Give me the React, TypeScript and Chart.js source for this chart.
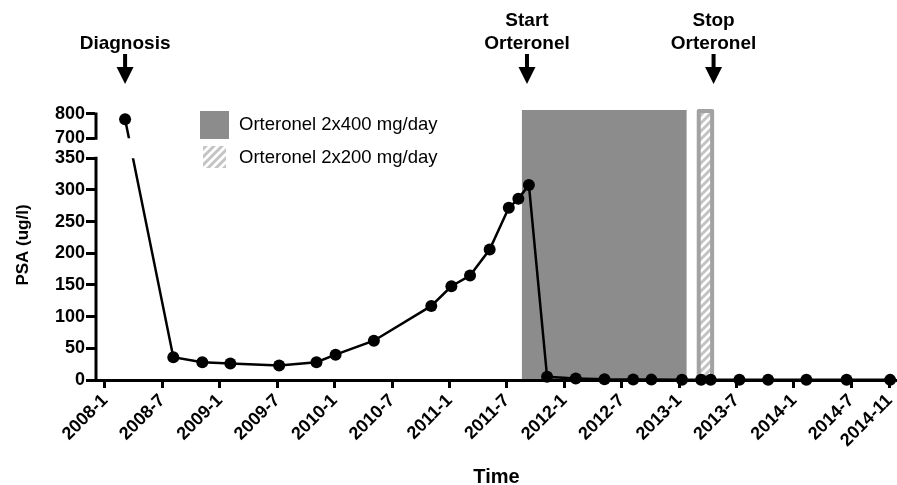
import React, { useEffect, useRef } from 'react';
import { Chart, LinearScale, registerables } from 'chart.js';

// ---------------- data ----------------
// x = months since 2008-01
const MONTHS_SINCE_2008_01 = [
  2.1, 7.14, 10.17, 13.1, 18.2, 22.1, 24.1, 28.1, 34.1, 36.2, 38.15, 40.2, 42.2, 43.2, 44.3,
  46.2, 49.2, 52.2, 55.2, 57.1, 60.3, 62.3, 63.3, 66.3, 69.3, 73.3, 77.5, 82.05,
];
const PSA_UG_L = [
  778, 36, 28, 26, 23, 28, 40, 62, 117, 148, 165, 206, 272, 286, 308,
  5, 2.5, 1, 0.8, 0.6, 0.5, 0.5, 0.5, 0.4, 0.4, 0.3, 0.3, 0.2,
];
const X_TICK_MONTHS = [0, 6, 12, 18, 24, 30, 36, 42, 48, 54, 60, 66, 72, 78, 82];
const X_TICK_LABELS = [
  '2008-1', '2008-7', '2009-1', '2009-7', '2010-1', '2010-7', '2011-1', '2011-7',
  '2012-1', '2012-7', '2013-1', '2013-7', '2014-1', '2014-7', '2014-11',
];
const Y_TICKS = [0, 50, 100, 150, 200, 250, 300, 350, 700, 800];
const ORTERONEL_400_MONTHS = [43.55, 60.8];
const ORTERONEL_200_MONTHS = [62.05, 63.45];
const EVENT_MONTHS = [2.1, 44.1, 63.6];
const EVENT_LABELS = [['Diagnosis'], ['Start', 'Orteronel'], ['Stop', 'Orteronel']];
const LEGEND_LABELS = ['Orteronel 2x400 mg/day', 'Orteronel 2x200 mg/day'];

// ---------------- axis geometry / style ----------------
const LOW_MAX = 350;
const HIGH_MIN = 700;
const HIGH_MAX = 816;
const UPPER_TICK_MAX = 800;
const LOW_FRAC = 0.8211;
const GAP_FRAC = 0.0741;
const X_MIN = -0.94;
const X_MAX = 82.77;
const BAND_TOP = 816;
const HATCH_TOP = 812;
const FONT = '"Liberation Sans", Arial, Helvetica, sans-serif';
const GRAY = '#8c8c8c';
const HATCH_BORDER = '#a2a2a2';

function toDecimal(v: number): number {
  if (v <= LOW_MAX) return (v / LOW_MAX) * LOW_FRAC;
  if (v < HIGH_MIN) return LOW_FRAC + ((v - LOW_MAX) / (HIGH_MIN - LOW_MAX)) * GAP_FRAC;
  return LOW_FRAC + GAP_FRAC + ((v - HIGH_MIN) / (HIGH_MAX - HIGH_MIN)) * (1 - LOW_FRAC - GAP_FRAC);
}
function fromDecimal(d: number): number {
  if (d <= LOW_FRAC) return (d / LOW_FRAC) * LOW_MAX;
  if (d < LOW_FRAC + GAP_FRAC) return LOW_MAX + ((d - LOW_FRAC) / GAP_FRAC) * (HIGH_MIN - LOW_MAX);
  return HIGH_MIN + ((d - LOW_FRAC - GAP_FRAC) / (1 - LOW_FRAC - GAP_FRAC)) * (HIGH_MAX - HIGH_MIN);
}

class BrokenLinearScale extends LinearScale {
  static id = 'brokenLinear';
  static defaults = {};
  buildTicks(): any {
    return Y_TICKS.map((value) => ({ value }));
  }
  getPixelForValue(value: any): number {
    if (value === null || value === undefined || Number.isNaN(+value)) return NaN;
    return (this as any).getPixelForDecimal(toDecimal(+value));
  }
  getValueForPixel(pixel: number): number {
    return fromDecimal((this as any).getDecimalForPixel(pixel));
  }
  drawBorder() {
    const self: any = this;
    const ctx = self.ctx as CanvasRenderingContext2D;
    const b = self.options.border;
    const w = b.width || 3;
    const x = self.right;
    ctx.save();
    ctx.strokeStyle = b.color || '#000';
    ctx.lineWidth = w;
    ctx.lineCap = 'butt';
    ctx.beginPath();
    ctx.moveTo(x, this.getPixelForValue(0) + w / 2);
    ctx.lineTo(x, this.getPixelForValue(LOW_MAX) - w / 2);
    ctx.moveTo(x, this.getPixelForValue(HIGH_MIN) + w / 2);
    ctx.lineTo(x, this.getPixelForValue(UPPER_TICK_MAX) - w / 2);
    ctx.stroke();
    ctx.restore();
  }
}

Chart.register(...registerables, BrokenLinearScale as any);

function makeHatch(ctx: CanvasRenderingContext2D): CanvasPattern | string {
  const c = document.createElement('canvas');
  c.width = 8;
  c.height = 8;
  const g = c.getContext('2d');
  if (!g) return '#ccc';
  g.fillStyle = '#ffffff';
  g.fillRect(0, 0, 8, 8);
  g.strokeStyle = '#c4c4c4';
  g.lineWidth = 3;
  g.beginPath();
  g.moveTo(-2, 10); g.lineTo(10, -2);
  g.moveTo(-2, 2); g.lineTo(2, -2);
  g.moveTo(6, 10); g.lineTo(10, 6);
  g.stroke();
  return ctx.createPattern(c, 'repeat') || '#ccc';
}

const seriesClip = {
  id: 'seriesClip',
  beforeDatasetDraw(chart: any, args: any) {
    if (args.index !== 0) return;
    const y = chart.scales.y;
    const ctx = chart.ctx;
    ctx.save();
    ctx.beginPath();
    const upBottom = y.getPixelForValue(HIGH_MIN);
    const lowTop = y.getPixelForValue(LOW_MAX);
    ctx.rect(0, 0, chart.width, upBottom);
    ctx.rect(0, lowTop, chart.width, chart.height - lowTop);
    ctx.clip();
  },
  afterDatasetDraw(chart: any, args: any) {
    if (args.index !== 0) return;
    chart.ctx.restore();
  },
};

function makeDecor(pattern: any) {
  return {
    id: 'decor',
    afterDraw(chart: any) {
      const ctx = chart.ctx as CanvasRenderingContext2D;
      const xs = chart.scales.x;
      ctx.save();
      ctx.fillStyle = '#000';
      ctx.textAlign = 'center';
      ctx.textBaseline = 'middle';
      ctx.font = `bold 19px ${FONT}`;
      EVENT_MONTHS.forEach((m, i) => {
        const px = xs.getPixelForValue(m);
        const lines = EVENT_LABELS[i];
        lines.forEach((t, j) => {
          ctx.fillText(t, px, 44 - (lines.length - 1 - j) * 23);
        });
        ctx.fillRect(px - 2, 54, 4, 14);
        ctx.beginPath();
        ctx.moveTo(px - 8.5, 67);
        ctx.lineTo(px + 8.5, 67);
        ctx.lineTo(px, 84);
        ctx.closePath();
        ctx.fill();
      });
      // legend
      ctx.fillStyle = GRAY;
      ctx.fillRect(200, 111, 29, 28);
      ctx.fillStyle = pattern;
      ctx.fillRect(203, 146, 23, 22);
      ctx.fillStyle = '#000';
      ctx.textAlign = 'left';
      ctx.font = `18.5px ${FONT}`;
      ctx.fillText(LEGEND_LABELS[0], 239, 125);
      ctx.fillText(LEGEND_LABELS[1], 239, 158);
      ctx.restore();
    },
  };
}

export default function App() {
  const ref = useRef<HTMLCanvasElement>(null);
  useEffect(() => {
    const canvas = ref.current;
    if (!canvas) return;
    const ctx = canvas.getContext('2d');
    if (!ctx) return;
    const hatch = makeHatch(ctx);
    const series = MONTHS_SINCE_2008_01.map((x, i) => ({ x, y: PSA_UG_L[i] }));
    const box400 = ORTERONEL_400_MONTHS.map((x) => ({ x, y: BAND_TOP }));
    const box200 = [
      { x: ORTERONEL_200_MONTHS[0], y: 0 },
      { x: ORTERONEL_200_MONTHS[0], y: HATCH_TOP },
      { x: ORTERONEL_200_MONTHS[1], y: HATCH_TOP },
      { x: ORTERONEL_200_MONTHS[1], y: 0 },
    ];
    const tickFont = { family: FONT, size: 18, weight: 'bold' as const };
    const chart = new Chart(canvas, {
      type: 'line',
      data: {
        datasets: [
          {
            label: 'PSA',
            data: series,
            borderColor: '#000',
            borderWidth: 2.5,
            pointRadius: 6,
            pointBackgroundColor: '#000',
            pointBorderWidth: 0,
            tension: 0,
            fill: false,
            clip: false as any,
          },
          {
            label: LEGEND_LABELS[1],
            data: box200,
            borderColor: HATCH_BORDER,
            borderWidth: 4,
            borderJoinStyle: 'round',
            backgroundColor: hatch as any,
            pointRadius: 0,
            fill: 'origin',
            tension: 0,
            clip: false as any,
          },
          {
            label: LEGEND_LABELS[0],
            data: box400,
            borderColor: GRAY,
            borderWidth: 1,
            backgroundColor: GRAY,
            pointRadius: 0,
            fill: 'origin',
            tension: 0,
          },
        ],
      },
      options: {
        responsive: false,
        maintainAspectRatio: false,
        animation: false,
        events: [],
        layout: { autoPadding: false, padding: { top: 110, left: 0, right: 0, bottom: 0 } },
        plugins: {
          legend: { display: false },
          tooltip: { enabled: false },
        },
        scales: {
          x: {
            type: 'linear',
            position: 'bottom',
            min: X_MIN,
            max: X_MAX,
            afterBuildTicks: (s: any) => {
              s.ticks = X_TICK_MONTHS.map((value) => ({ value }));
            },
            afterFit: (s: any) => {
              s.height = 105;
              s.paddingLeft = 0;
              s.paddingRight = 0;
            },
            grid: { drawOnChartArea: false, tickLength: 8, tickWidth: 3, tickColor: '#000' },
            border: { display: true, color: '#000', width: 3, z: 1 },
            ticks: {
              autoSkip: false,
              minRotation: 45,
              maxRotation: 45,
              padding: 2,
              color: '#000',
              font: tickFont,
              callback: (_v: any, i: number) => X_TICK_LABELS[i] ?? '',
            },
            title: {
              display: true,
              text: 'Time',
              color: '#000',
              font: { family: FONT, size: 20, weight: 'bold', lineHeight: 1 },
              padding: { top: 0, bottom: -2 },
            },
          } as any,
          y: {
            type: 'brokenLinear',
            position: 'left',
            min: 0,
            max: HIGH_MAX,
            afterFit: (s: any) => {
              s.width = 96;
            },
            grid: { drawOnChartArea: false, tickLength: 10, tickWidth: 3, tickColor: '#000' },
            border: { display: true, color: '#000', width: 3 },
            ticks: {
              autoSkip: false,
              padding: 1,
              color: '#000',
              font: tickFont,
              callback: (v: any) => String(v),
            },
            title: {
              display: true,
              text: 'PSA (ug/l)',
              color: '#000',
              font: { family: FONT, size: 17, weight: 'bold' },
              padding: { top: 13, bottom: 0 },
            },
          } as any,
        },
      },
      plugins: [seriesClip, makeDecor(hatch)],
    });
    return () => chart.destroy();
  }, []);
  return (
    <div style={{ position: 'fixed', left: 0, top: 0, width: 897, height: 485, background: '#fff' }}>
      <canvas ref={ref} width={897} height={485} style={{ display: 'block' }} />
    </div>
  );
}
